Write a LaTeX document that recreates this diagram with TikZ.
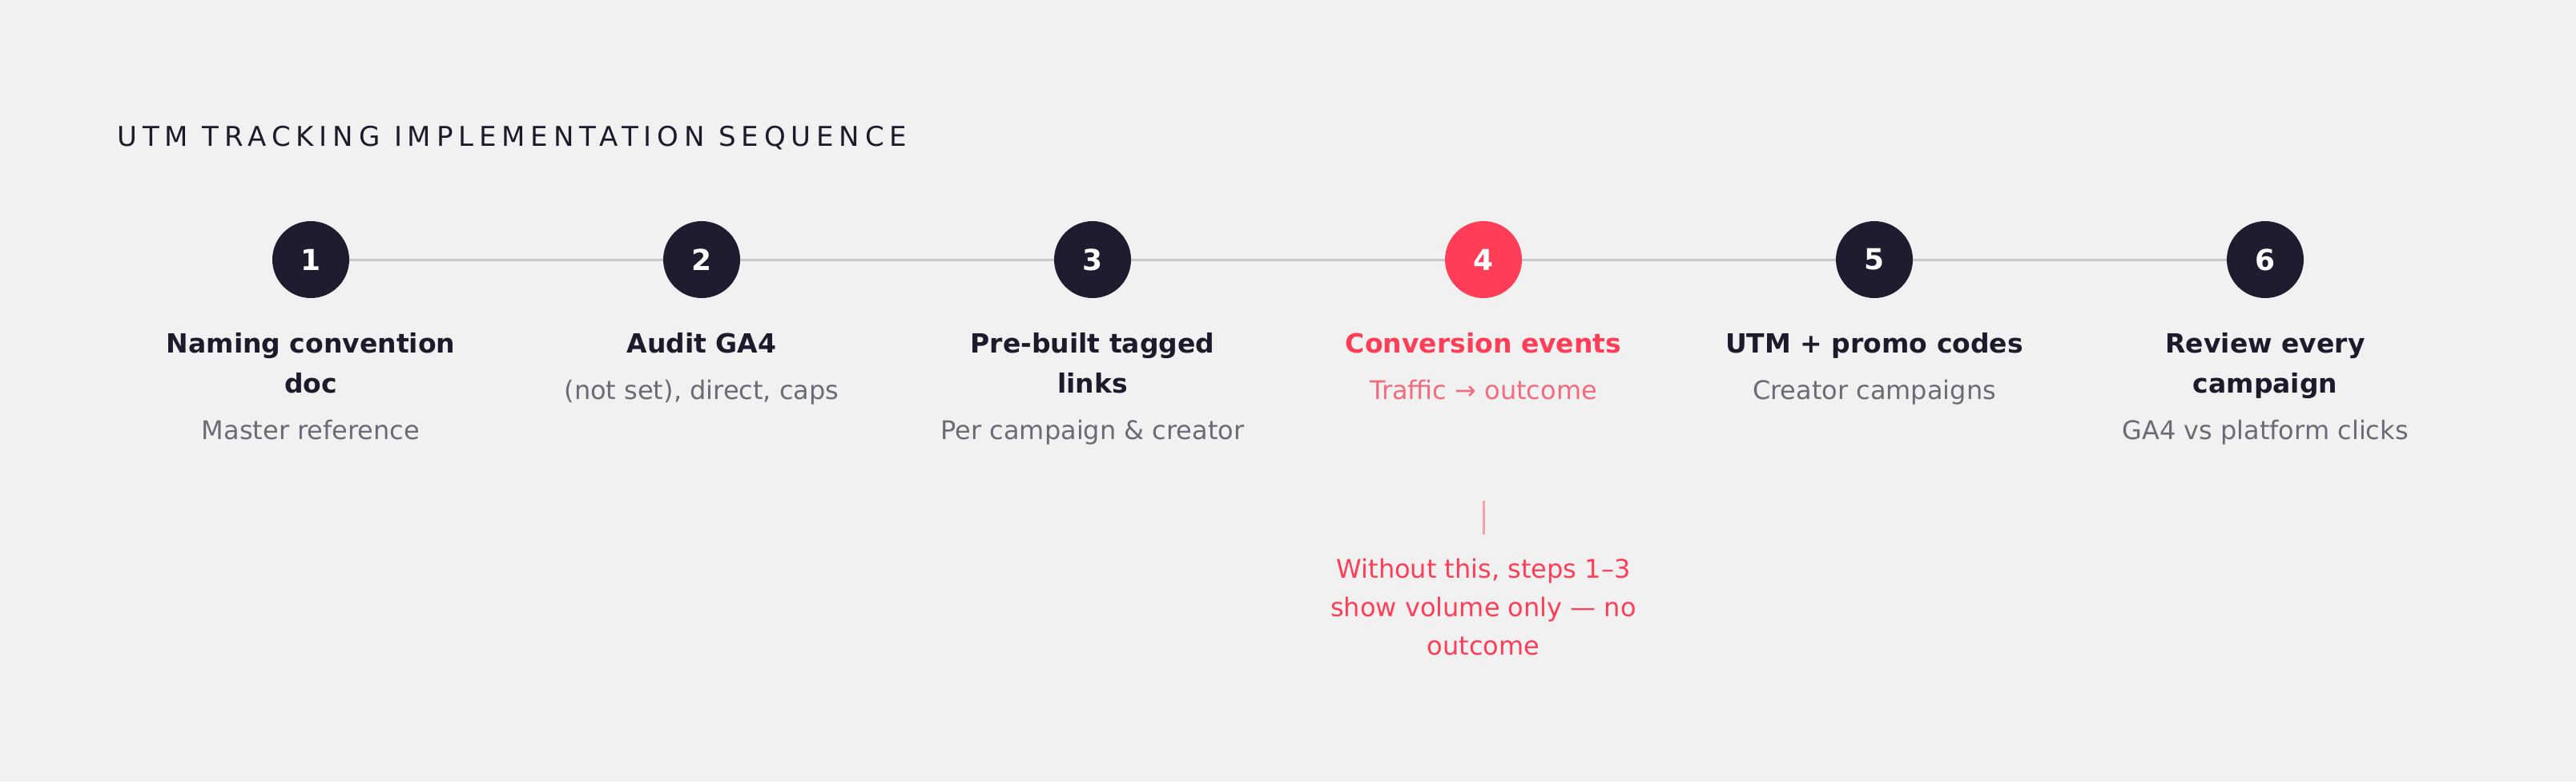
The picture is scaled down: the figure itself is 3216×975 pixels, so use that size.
\documentclass[tikz,border=0pt]{standalone}
\usepackage{fontspec}
\setmainfont{DejaVu Sans}
\newfontfamily\headfont[LetterSpace=20.2]{DejaVu Sans}
\definecolor{paper}{HTML}{F1F1F1}
\definecolor{navy}{HTML}{1E1D2F}
\definecolor{ink}{HTML}{1C1B2C}
\definecolor{muted}{HTML}{6B6B76}
\definecolor{alert}{HTML}{FF3D57}
\definecolor{alertsoft}{HTML}{F26B7E}
\definecolor{rail}{HTML}{C9C9C9}
\definecolor{flag}{HTML}{F5A0AB}
\tikzset{
	stepdot/.style={circle, fill=navy, minimum size=48pt, inner sep=0pt, text=white, font=\bfseries\fontsize{18}{18}\selectfont},
	hotdot/.style={stepdot, fill=alert},
	steplabel/.style={anchor=base, align=center, inner sep=0pt, text=ink, font=\bfseries\fontsize{16.5}{25}\selectfont},
	stepnote/.style={anchor=base, align=center, inner sep=0pt, text=muted, font=\fontsize{16}{24}\selectfont},
	track/.style={draw=rail, line width=1.5pt},
	flagline/.style={draw=flag, line width=1.5pt}
}

\begin{document}
\begin{tikzpicture}[x=0.5pt, y=-0.5pt]
		%%%%% START %%%%%
		
		\fill[paper] (0, 0) rectangle (3216, 975);
		
		\node[anchor=base west, inner sep=0pt, text=ink, font=\headfont\fontsize{17}{17}\selectfont] (head) at (146, 182) {UTM TRACKING IMPLEMENTATION SEQUENCE};
		
		\node[stepdot] (s1) at (388, 324) {1};
		\node[stepdot] (s2) at (876, 324) {2};
		\node[stepdot] (s3) at (1364, 324) {3};
		\node[hotdot] (s4) at (1852, 324) {4};
		\node[stepdot] (s5) at (2340, 324) {5};
		\node[stepdot] (s6) at (2828, 324) {6};
		
		\draw[track] (s1) -- (s2);
		\draw[track] (s2) -- (s3);
		\draw[track] (s3) -- (s4);
		\draw[track] (s4) -- (s5);
		\draw[track] (s5) -- (s6);
		
		% base = last line
		\node[steplabel] (t1) at (388, 490) {Naming convention\\doc};
		\node[stepnote] (n1) at (388, 548) {Master reference};
		
		\node[steplabel] (t2) at (876, 440) {Audit GA4};
		\node[stepnote] (n2) at (876, 498) {(not set), direct, caps};
		
		\node[steplabel] (t3) at (1364, 490) {Pre-built tagged\\links};
		\node[stepnote] (n3) at (1364, 548) {Per campaign \& creator};
		
		\node[steplabel, text=alert] (t4) at (1852, 440) {Conversion events};
		\node[stepnote, text=alertsoft] (n4) at (1852, 498) {Traffic → outcome};
		
		\node[steplabel] (t5) at (2340, 440) {UTM + promo codes};
		\node[stepnote] (n5) at (2340, 498) {Creator campaigns};
		
		\node[steplabel] (t6) at (2828, 490) {Review every\\campaign};
		\node[stepnote] (n6) at (2828, 548) {GA4 vs platform clicks};
		
		\coordinate (k1) at (1852, 625);
		\coordinate (k2) at (1852, 667);
		\draw[flagline] (k1) -- (k2);
		
		\node[stepnote, text=alert] (warn) at (1852, 817) {Without this, steps 1–3\\show volume only — no\\outcome};
		
		%%%%% END %%%%%
	\end{tikzpicture}
\end{document}
